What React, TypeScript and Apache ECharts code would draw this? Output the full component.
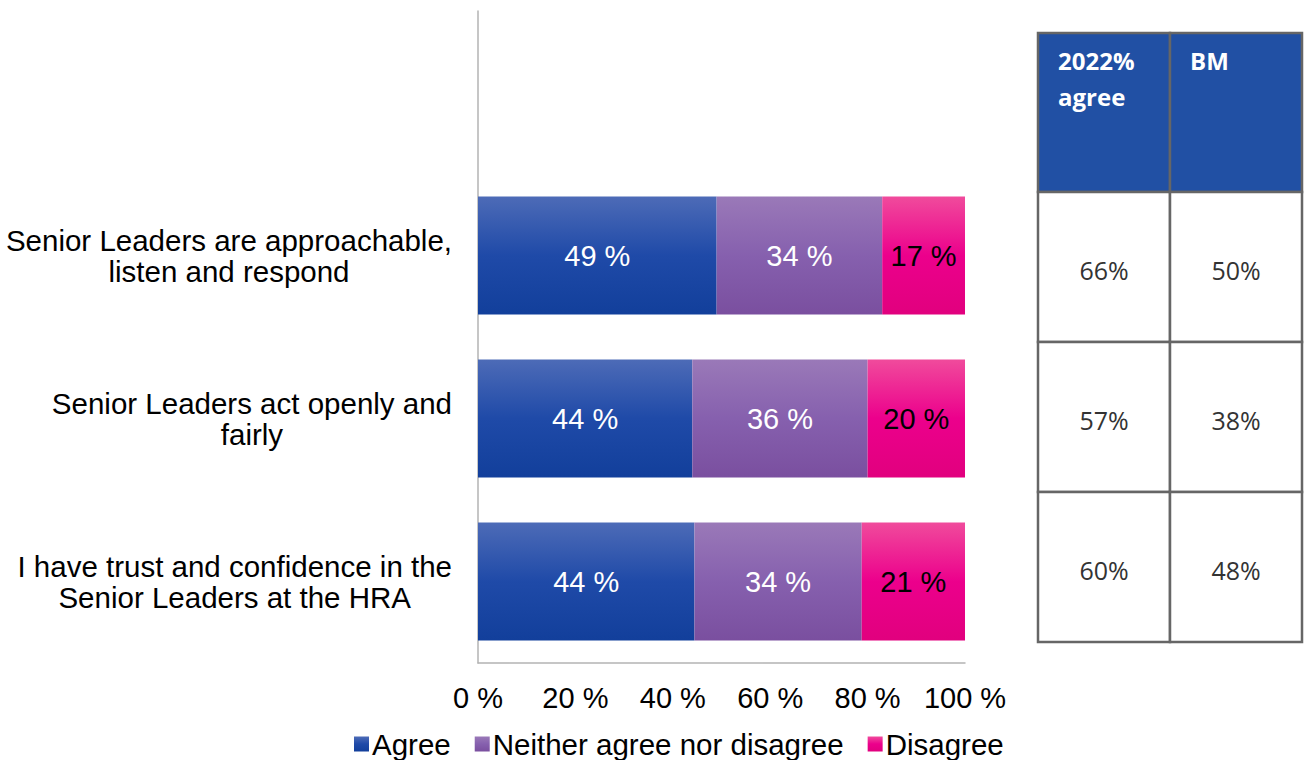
import React, { useEffect, useRef } from "react";
import * as echarts from "echarts";

const questions = [
  "Senior Leaders are approachable,\nlisten and respond",
  "Senior Leaders act openly and\nfairly",
  "I have trust and confidence in the\nSenior Leaders at the HRA",
];
const seriesNames = ["Agree", "Neither agree nor disagree", "Disagree"];
const agree = [49, 44, 44];
const neither = [34, 36, 34];
const disagree = [17, 20, 21];
const xTicks = [0, 20, 40, 60, 80, 100];

const tableHeaders = ["2022%\nagree", "BM"];
const agree2022 = ["66%", "57%", "60%"];
const benchmark = ["50%", "38%", "48%"];

const FONT = "'Liberation Sans', Arial, sans-serif";
const TFONT = "'Open Sans', 'Noto Sans', sans-serif";

function grad(stops: [number, string][]) {
  return new echarts.graphic.LinearGradient(
    0, 0, 0, 1,
    stops.map(([offset, color]) => ({ offset, color }))
  );
}

export default function App() {
  const ref = useRef<HTMLDivElement>(null);
  useEffect(() => {
    if (!ref.current) return;
    const chart = echarts.init(ref.current, undefined, { renderer: "svg" });
    const sums = questions.map((_, i) => agree[i] + neither[i] + disagree[i]);
    const raw = [agree, neither, disagree];
    const colors = [
      grad([[0, "#4d6bb7"], [0.5, "#1f4aa8"], [1, "#123f9b"]]),
      grad([[0, "#9a79b8"], [0.5, "#8660ae"], [1, "#7a4f9f"]]),
      grad([[0, "#f04b9c"], [0.5, "#ec008c"], [1, "#e1007e"]]),
    ];
    const labelColors = ["#ffffff", "#ffffff", "#000000"];

    const series = raw.map((vals, s) => ({
      name: seriesNames[s],
      type: "bar",
      stack: "total",
      barCategoryGap: "27.5%",
      itemStyle: { color: colors[s] },
      label: {
        show: true,
        position: "inside",
        color: labelColors[s],
        fontSize: 29,
        fontFamily: FONT,
        formatter: (p: any) => `${vals[p.dataIndex - 1]} %`,
      },
      data: [null, ...vals.map((v, i) => (v / sums[i]) * 100)],
    }));

    // Table on the right
    const tx = 1038, tMid = 1170, tRight = 1302;
    const headTop = 33, headBottom = 192, rowH = 150;
    const stroke = "#666666";
    const graphics: any[] = [];
    const cols = [
      [tx, tMid],
      [tMid, tRight],
    ];
    cols.forEach(([x0, x1], c) => {
      graphics.push({
        type: "rect",
        shape: { x: x0, y: headTop, width: x1 - x0, height: headBottom - headTop },
        style: { fill: "#2150a4", stroke, lineWidth: 2.5 },
      });
      graphics.push({
        type: "text",
        x: x0 + 20,
        y: headTop + 9,
        style: {
          text: tableHeaders[c],
          fill: "#ffffff",
          font: `bold 24px ${TFONT}`,
          lineHeight: 36,
          textAlign: "left",
          textVerticalAlign: "top",
        },
      });
      const vals = c === 0 ? agree2022 : benchmark;
      vals.forEach((v, r) => {
        const y0 = headBottom + r * rowH;
        graphics.push({
          type: "rect",
          shape: { x: x0, y: y0, width: x1 - x0, height: rowH },
          style: { fill: "#ffffff", stroke, lineWidth: 2.5 },
        });
        graphics.push({
          type: "text",
          x: (x0 + x1) / 2,
          y: y0 + rowH / 2 + 3,
          style: {
            text: v,
            fill: "#333333",
            font: `25px ${TFONT}`,
            textAlign: "center",
            textVerticalAlign: "middle",
          },
        });
      });
    });

    chart.setOption({
      animation: false,
      grid: { left: 478, right: 340, top: 11, bottom: 97, containLabel: false },
      legend: {
        left: 349,
        top: 724,
        itemWidth: 15,
        itemHeight: 15,
        itemGap: 24,
        icon: "rect",
        textStyle: { fontSize: 29.5, fontFamily: FONT, color: "#000", padding: [0, 0, 0, -2] },
        data: seriesNames,
      },
      xAxis: {
        type: "value",
        min: 0,
        max: 100,
        interval: 20,
        axisLine: { show: true, lineStyle: { color: "#b3b3b3", width: 1.5 } },
        axisTick: { show: false },
        splitLine: { show: false },
        axisLabel: {
          formatter: (v: number) => (xTicks.includes(v) ? `${v} %` : ""),
          fontSize: 29,
          fontFamily: FONT,
          color: "#000",
          margin: 20,
        },
      },
      yAxis: {
        type: "category",
        inverse: true,
        data: ["", ...questions],
        axisLine: { show: true, lineStyle: { color: "#b3b3b3", width: 1.5 } },
        axisTick: { show: false },
        axisLabel: {
          align: "right",
          margin: 26,
          formatter: (v: string) =>
            v
              .split("\n")
              .map((l) => `{c|${l}}`)
              .join("\n"),
          rich: {
            c: {
              align: "center",
              fontSize: 29.5,
              lineHeight: 31,
              fontFamily: FONT,
              color: "#000",
            },
          },
        },
      },
      series,
      graphic: graphics,
    });
    return () => chart.dispose();
  }, []);
  return (
    <div
      ref={ref}
      style={{ position: "fixed", left: 0, top: 0, width: 1305, height: 760, background: "#fff" }}
    />
  );
}
